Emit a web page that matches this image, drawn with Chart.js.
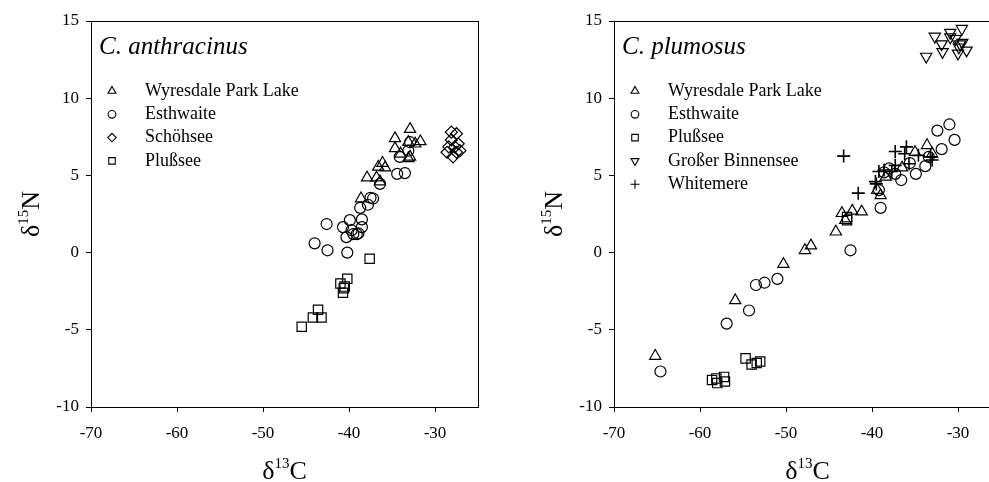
<!DOCTYPE html>
<html>
<head>
<meta charset="utf-8">
<script src="https://cdn.jsdelivr.net/npm/chart.js@4/dist/chart.umd.min.js"></script>
<style>
  html, body { margin: 0; padding: 0; background: #fff; overflow: hidden; width: 989px; height: 482px; }
  .panel { position: absolute; top: 0; width: 523px; height: 482px; }
</style>
</head>
<body>
<div class="panel" style="left:0"><canvas id="left" width="523" height="482"></canvas></div>
<div class="panel" style="left:523px"><canvas id="right" width="523" height="482"></canvas></div>
<script>
// C. anthracinus  [d13C, d15N]
const anthWyresdale = [[-32.9,8.0],[-34.65,7.4],[-34.65,6.75],[-33.1,7.15],[-31.7,7.2],[-32.3,7.05],[-32.9,6.2],[-34.0,6.4],[-33.1,6.1],[-36.1,5.8],[-36.6,5.55],[-35.8,5.5],[-37.9,4.85],[-36.8,4.85],[-36.4,4.6],[-38.6,3.5]];
const anthEsthwaite = [[-44.0,0.6],[-42.5,0.15],[-40.2,0.0],[-42.6,1.85],[-40.7,1.65],[-39.9,2.1],[-39.7,1.45],[-40.3,1.0],[-39.5,1.2],[-38.9,1.25],[-38.5,1.65],[-38.5,2.15],[-38.7,2.9],[-37.8,3.1],[-37.5,3.55],[-37.2,3.5],[-36.4,4.45],[-34.4,5.1],[-33.5,5.15],[-34.1,6.2],[-33.1,6.6],[-32.9,7.15],[-39.1,1.2]];
const anthSchohsee = [[-28.1,7.8],[-27.5,7.7],[-28.1,7.3],[-27.3,7.05],[-27.7,6.85],[-28.6,6.5],[-27.9,6.2],[-27.1,6.6],[-28.4,6.85],[-27.5,6.5]];
const anthPlussee = [[-37.6,-0.4],[-40.2,-1.7],[-41.0,-2.0],[-40.6,-2.3],[-40.7,-2.6],[-40.5,-2.2],[-43.6,-3.7],[-44.2,-4.2],[-43.2,-4.2],[-45.5,-4.8]];

// C. plumosus
const plumWyresdale = [[-65.2,-6.7],[-55.9,-3.1],[-50.3,-0.75],[-47.8,0.15],[-47.1,0.45],[-44.2,1.35],[-43.5,2.55],[-42.3,2.7],[-41.2,2.65],[-43.1,2.1],[-39.0,3.7],[-39.4,4.05],[-33.6,6.95],[-35.0,6.5],[-33.0,6.4],[-38.4,4.9],[-36.5,5.5]];
const plumEsthwaite = [[-64.6,-7.7],[-56.9,-4.6],[-54.3,-3.75],[-53.5,-2.1],[-52.5,-1.95],[-51.0,-1.7],[-42.5,0.15],[-39.0,2.9],[-39.2,4.05],[-38.0,5.45],[-37.3,5.1],[-36.6,4.7],[-35.6,5.8],[-34.9,5.1],[-33.8,5.6],[-33.4,6.2],[-31.9,6.7],[-30.4,7.3],[-32.4,7.9],[-31.0,8.3],[-38.6,5.2]];
const plumPlussee = [[-58.6,-8.25],[-58.1,-8.15],[-57.2,-8.05],[-57.1,-8.35],[-58.0,-8.45],[-54.7,-6.85],[-54.0,-7.25],[-53.4,-7.15],[-53.0,-7.05],[-42.9,2.1],[-42.9,2.3]];
const plumBinnensee = [[-33.7,12.7],[-32.7,14.0],[-31.9,13.5],[-31.8,13.0],[-30.9,14.25],[-30.9,13.95],[-30.3,13.85],[-29.75,13.5],[-29.55,14.5],[-29.0,13.1],[-30.0,12.9],[-29.9,13.3],[-29.5,13.6]];
const plumWhitemere = [[-43.3,6.25],[-41.6,3.85],[-39.5,4.45],[-39.2,5.25],[-38.6,5.35],[-37.3,5.65],[-37.3,6.55],[-36.0,6.85],[-36.2,6.4],[-34.6,6.3],[-33.2,6.2],[-35.7,5.75],[-37.7,5.25],[-33.0,6.0],[-39.6,4.6]];

const xTicks = [-70, -60, -50, -40, -30];
const yTicks = [-10, -5, 0, 5, 10, 15];

const SERIF = "'Liberation Serif', 'Times New Roman', serif";

const styles = {
    tri:  { pointStyle: 'triangle', rotation: 0, radius: 6.5, lw: 1.2 },
    circ: { pointStyle: 'circle', rotation: 0, radius: 5.5, lw: 1.2 },
    diam: { pointStyle: 'rectRot', rotation: 0, radius: 6, lw: 1.2 },
    sq:   { pointStyle: 'rect', rotation: 0, radius: 6.6, lw: 1.2 },
    inv:  { pointStyle: 'triangle', rotation: 180, radius: 6.5, lw: 1.2 },
    plus: { pointStyle: 'cross', rotation: 0, radius: 6.5, lw: 1.6 }
};

function ds(label, pts, st) {
    return {
        label: label,
        data: pts.map(p => ({ x: p[0], y: p[1] })),
        pointStyle: st.pointStyle,
        rotation: st.rotation,
        pointRadius: st.radius,
        pointHoverRadius: st.radius,
        borderColor: '#000',
        backgroundColor: 'rgba(0,0,0,0)',
        borderWidth: st.lw,
        legendStyle: st
    };
}

// draws frame, species title, legend and the two axis titles
const decor = {
    id: 'decor',
    afterDraw(chart, args, opts) {
        const ctx = chart.ctx;
        const a = chart.chartArea;
        ctx.save();
        ctx.strokeStyle = '#000';
        ctx.lineWidth = 1;
        ctx.strokeRect(Math.round(a.left) + 0.5, Math.round(a.top) + 0.5, Math.round(a.right - a.left), Math.round(a.bottom - a.top));

        ctx.fillStyle = '#000';
        ctx.textBaseline = 'middle';
        ctx.textAlign = 'left';
        ctx.font = 'italic 25px ' + SERIF;
        ctx.fillText(opts.title, a.left + 8, 47);

        ctx.font = '18px ' + SERIF;
        chart.data.datasets.forEach((d, i) => {
            const y = 91 + i * 23.3;
            const st = d.legendStyle;
            const m = Object.assign({}, st, { radius: st.radius * 0.7 });
            ctx.lineWidth = 1.1;
            drawMarker(ctx, a.left + 21, y, m);
            ctx.fillText(d.label, a.left + 54, y);
        });

        // x title: delta 13 C
        drawIso(ctx, (a.left + a.right) / 2, 470, '13', 'C');
        // y title rotated
        ctx.translate(30, (a.top + a.bottom) / 2);
        ctx.rotate(-Math.PI / 2);
        drawIso(ctx, 0, 0, '15', 'N');
        ctx.restore();
    }
};

function drawIso(ctx, cx, cy, sup, el) {
    ctx.font = '26px ' + SERIF;
    const wd = ctx.measureText('\u03b4').width;
    const we = ctx.measureText(el).width;
    ctx.font = '15px ' + SERIF;
    const ws = ctx.measureText(sup).width;
    let x = cx - (wd + ws + we) / 2;
    ctx.textAlign = 'left';
    ctx.textBaseline = 'alphabetic';
    ctx.font = '26px ' + SERIF;
    ctx.fillText('\u03b4', x, cy + 9);
    x += wd;
    ctx.font = '15px ' + SERIF;
    ctx.fillText(sup, x, cy - 2);
    x += ws;
    ctx.font = '26px ' + SERIF;
    ctx.fillText(el, x, cy + 9);
}

function drawMarker(ctx, x, y, st) {
    const r = st.radius;
    ctx.beginPath();
    if (st.pointStyle === 'circle') {
        ctx.arc(x, y, r, 0, Math.PI * 2);
    } else if (st.pointStyle === 'triangle') {
        const s = st.rotation === 180 ? -1 : 1;
        ctx.moveTo(x, y - s * r);
        ctx.lineTo(x + r * 0.866, y + s * r / 2);
        ctx.lineTo(x - r * 0.866, y + s * r / 2);
        ctx.closePath();
    } else if (st.pointStyle === 'rect') {
        const h = r * Math.SQRT1_2;
        ctx.rect(x - h, y - h, 2 * h, 2 * h);
    } else if (st.pointStyle === 'rectRot') {
        ctx.moveTo(x, y - r); ctx.lineTo(x + r, y); ctx.lineTo(x, y + r); ctx.lineTo(x - r, y);
        ctx.closePath();
    } else if (st.pointStyle === 'cross') {
        ctx.moveTo(x - r, y); ctx.lineTo(x + r, y);
        ctx.moveTo(x, y - r); ctx.lineTo(x, y + r);
    }
    ctx.stroke();
}

function makeChart(id, title, datasets) {
    const tickFont = { family: SERIF, size: 17 };
    return new Chart(document.getElementById(id), {
        type: 'scatter',
        data: { datasets: datasets },
        options: {
            responsive: false,
            animation: false,
            devicePixelRatio: 1,
            layout: { padding: { left: 0, top: 21, right: 45, bottom: 0 } },
            plugins: {
                legend: { display: false },
                tooltip: { enabled: false },
                decor: { title: title }
            },
            scales: {
                x: {
                    type: 'linear', min: -70, max: -25,
                    afterBuildTicks: s => { s.ticks = xTicks.map(v => ({ value: v })); },
                    afterFit: s => { s.height = 75; },
                    grid: { drawOnChartArea: false, drawTicks: true, tickLength: 5, color: '#000' },
                    border: { color: '#000', width: 1 },
                    ticks: { color: '#000', font: tickFont, padding: 11, maxRotation: 0 }
                },
                y: {
                    type: 'linear', min: -10, max: 15,
                    afterBuildTicks: s => { s.ticks = yTicks.map(v => ({ value: v })); },
                    afterFit: s => { s.width = 91; },
                    grid: { drawOnChartArea: false, drawTicks: true, tickLength: 5, color: '#000' },
                    border: { color: '#000', width: 1 },
                    ticks: { color: '#000', font: tickFont, padding: 7 }
                }
            }
        },
        plugins: [decor]
    });
}

makeChart('left', 'C. anthracinus', [
    ds('Wyresdale Park Lake', anthWyresdale, styles.tri),
    ds('Esthwaite', anthEsthwaite, styles.circ),
    ds('Schöhsee', anthSchohsee, styles.diam),
    ds('Plußsee', anthPlussee, styles.sq)
]);

makeChart('right', 'C. plumosus', [
    ds('Wyresdale Park Lake', plumWyresdale, styles.tri),
    ds('Esthwaite', plumEsthwaite, styles.circ),
    ds('Plußsee', plumPlussee, styles.sq),
    ds('Großer Binnensee', plumBinnensee, styles.inv),
    ds('Whitemere', plumWhitemere, styles.plus)
]);
</script>
</body>
</html>
